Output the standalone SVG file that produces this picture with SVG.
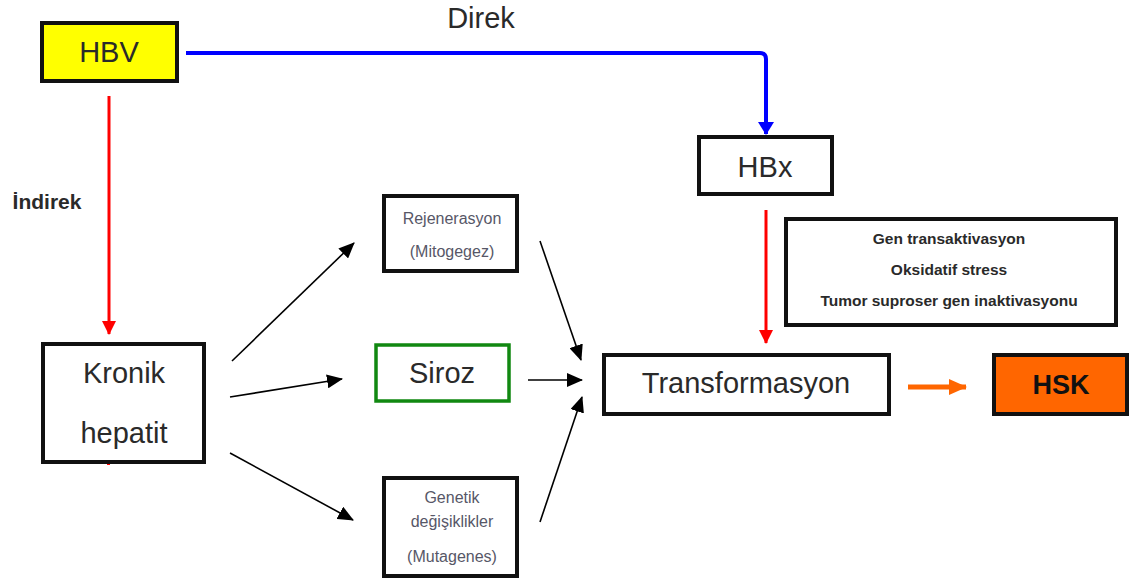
<svg xmlns="http://www.w3.org/2000/svg" width="1134" height="583" viewBox="0 0 1134 583">
<defs>
<style>
.box{fill:#fff;stroke:#111;stroke-width:4}
.t{font-family:"Liberation Sans",Arial,sans-serif;fill:#2a2a2a;text-anchor:middle}
.big{font-size:29px}
.small{font-size:16px;fill:#575767}
.bold{font-weight:bold}
.blk{stroke:#000;stroke-width:1.6;fill:none}
</style>
<marker id="ab" markerUnits="userSpaceOnUse" markerWidth="16" markerHeight="14" refX="15" refY="7" orient="auto"><path d="M0,0 L16,7 L0,14 Z" fill="#000"/></marker>
<marker id="ar" markerUnits="userSpaceOnUse" markerWidth="14" markerHeight="14" refX="13" refY="7" orient="auto"><path d="M0,0 L14,7 L0,14 Z" fill="#f00"/></marker>
<marker id="abl" markerUnits="userSpaceOnUse" markerWidth="13" markerHeight="16" refX="12" refY="8" orient="auto"><path d="M0,0 L13,8 L0,16 Z" fill="#00f"/></marker>
<marker id="ao" markerUnits="userSpaceOnUse" markerWidth="18" markerHeight="16" refX="17" refY="8" orient="auto"><path d="M0,0 L18,8 L0,16 Z" fill="#ff6600"/></marker>
</defs>
<rect width="1134" height="583" fill="#fff"/>
<g id="connectors">
<path d="M186,53 H760 Q766,53 766,59 V134" stroke="#00f" stroke-width="4" fill="none" marker-end="url(#abl)"/>
<line x1="109" y1="96" x2="109" y2="334" stroke="#f00" stroke-width="3" marker-end="url(#ar)"/>
<line x1="766" y1="210" x2="766" y2="343" stroke="#f00" stroke-width="3" marker-end="url(#ar)"/>
<line x1="232" y1="361" x2="354" y2="243" class="blk" marker-end="url(#ab)"/>
<line x1="230" y1="397" x2="342" y2="379" class="blk" marker-end="url(#ab)"/>
<line x1="230" y1="453" x2="353" y2="520" class="blk" marker-end="url(#ab)"/>
<line x1="540" y1="241" x2="581" y2="360" class="blk" marker-end="url(#ab)"/>
<line x1="528" y1="380" x2="582" y2="380" class="blk" marker-end="url(#ab)"/>
<line x1="540" y1="522" x2="582" y2="397" class="blk" marker-end="url(#ab)"/>
<line x1="908" y1="387" x2="966" y2="387" stroke="#ff6600" stroke-width="5" marker-end="url(#ao)"/>
<rect x="107" y="461" width="3" height="4" fill="#f00"/>
</g>
<text class="t big" x="481" y="28">Direk</text>
<text class="t bold" x="47" y="209" style="font-size:21px">İndirek</text>
<g id="hbv">
<rect x="42" y="23" width="135" height="58" fill="#ffff00" stroke="#111" stroke-width="4"/>
<text class="t big" x="109" y="62">HBV</text>
</g>
<g id="hbx">
<rect class="box" x="699" y="137" width="133" height="57"/>
<text class="t big" x="765" y="177">HBx</text>
</g>
<g id="mekanizma">
<rect class="box" x="786" y="219" width="330" height="106"/>
<text class="t bold" x="949" y="244" style="font-size:15.5px">Gen transaktivasyon</text>
<text class="t bold" x="949" y="275" style="font-size:15.5px">Oksidatif stress</text>
<text class="t bold" x="949" y="306" style="font-size:15.5px">Tumor suproser gen inaktivasyonu</text>
</g>
<g id="kronik">
<rect class="box" x="43" y="344" width="161" height="118"/>
<text class="t big" x="124" y="383">Kronik</text>
<text class="t big" x="124" y="443">hepatit</text>
</g>
<g id="rejenerasyon">
<rect class="box" x="384" y="196" width="133" height="75"/>
<text class="t small" x="452" y="224">Rejenerasyon</text>
<text class="t small" x="452" y="257">(Mitogegez)</text>
</g>
<g id="siroz">
<rect x="376" y="345" width="133" height="56" fill="#fff" stroke="#118811" stroke-width="3.5"/>
<text class="t big" x="442" y="383">Siroz</text>
</g>
<g id="genetik">
<rect class="box" x="384" y="478" width="133" height="98"/>
<text class="t small" x="452" y="503">Genetik</text>
<text class="t small" x="452" y="527">değişiklikler</text>
<text class="t small" x="452" y="562">(Mutagenes)</text>
</g>
<g id="transformasyon">
<rect class="box" x="604" y="355" width="285" height="59"/>
<text class="t big" x="746" y="393">Transformasyon</text>
</g>
<g id="hsk">
<rect x="994" y="355" width="133" height="59" fill="#ff6600" stroke="#111" stroke-width="4"/>
<text class="t bold" x="1061" y="394" style="font-size:27px;fill:#111">HSK</text>
</g>
</svg>
